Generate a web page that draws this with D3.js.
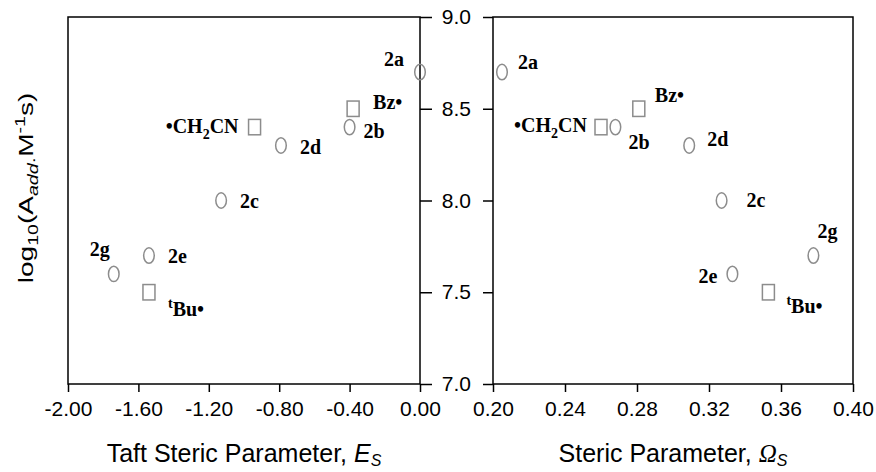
<!DOCTYPE html>
<html lang="en">
<head>
<meta charset="utf-8">
<title>log10 A_add against steric parameters</title>
<script src="https://cdn.jsdelivr.net/npm/d3@7"></script>
<style>
  body { margin: 0; background: #fff; }
  svg text { fill: #000; }
  .tick text { font-family: "Liberation Sans", Arial, sans-serif; font-size: 21px; }
  .tick line { stroke: #000; stroke-width: 1.5; }
  .lbl { font-family: "Liberation Serif", "Times New Roman", serif; font-weight: bold; font-size: 20px; }
  .title { font-family: "Liberation Sans", Arial, sans-serif; font-size: 25px; }
</style>
</head>
<body>
<div id="chart"></div>
<script>
// substrates 2a..2g (circles)
var subNames = ["2a", "2b", "2c", "2d", "2e", "2g"];
var subEs = [0.00, -0.40, -1.13, -0.79, -1.54, -1.74];
var subLogA_Es = [8.7, 8.4, 8.0, 8.3, 7.7, 7.6];
var subOmega = [0.205, 0.268, 0.327, 0.309, 0.333, 0.378];
var subLogA_Om = [8.7, 8.4, 8.0, 8.3, 7.6, 7.7];

// radicals (squares)
var radNames = ["Bz•", "•CH_{2}CN", "^{t}Bu•"];
var radEs = [-0.38, -0.94, -1.54];
var radOmega = [0.281, 0.260, 0.353];
var radLogA = [8.5, 8.4, 7.5];

var esTicks = [-2.0, -1.6, -1.2, -0.8, -0.4, 0.0];
var omegaTicks = [0.20, 0.24, 0.28, 0.32, 0.36, 0.40];
var logTicks = [7.0, 7.5, 8.0, 8.5, 9.0];

// where each label sits relative to its marker: [dx, dy, anchor]
var subLblEs = [[-16, -6, "end"], [14, 11, "start"], [19, 7, "start"], [19, 9, "start"], [19, 7, "start"], [-4, -18, "end"]];
var radLblEs = [[20, 0, "start"], [-16, 6, "end"], [19, 24, "start"]];
var subLblOm = [[16, -3, "start"], [13, 22, "start"], [25, 6, "start"], [18, 1, "start"], [-15, 9, "end"], [4, -18, "start"]];
var radLblOm = [[16, -7, "start"], [-14, 5, "end"], [18, 21, "start"]];

var W = 876, H = 472;
var markColor = "#8c8c8c";
var lblSize = 20;

var svg = d3.select("#chart").append("svg")
  .attr("width", W)
  .attr("height", H);

svg.append("rect").attr("width", W).attr("height", H).attr("fill", "#fff");

var y = d3.scaleLinear().domain([7, 9]).range([384, 17]);
var xEs = d3.scaleLinear().domain([-2, 0]).range([68, 420]);
var xOm = d3.scaleLinear().domain([0.2, 0.4]).range([493, 853]);

// text with _{sub} and ^{sup} markup
function richText(sel, str, size) {
  var re = /([_^])\{([^}]*)\}|([^_^]+)/g, m, shift = 0;
  while ((m = re.exec(str))) {
    if (m[3]) {
      sel.append("tspan").attr("dy", -shift).text(m[3]);
      shift = 0;
    } else {
      var d = m[1] == "_" ? size * 0.3 : -size * 0.4;
      sel.append("tspan").attr("dy", d - shift).attr("font-size", size * 0.7).text(m[2]);
      shift = d;
    }
  }
}

function drawPanel(x, ticks, fmt, sx, sy, sLbl, rx, ry, rLbl) {
  var r = x.range();
  svg.append("rect")
    .attr("x", r[0]).attr("y", y(9))
    .attr("width", r[1] - r[0]).attr("height", y(7) - y(9))
    .attr("fill", "none").attr("stroke", "#000").attr("stroke-width", 1.5);

  svg.append("g")
    .attr("transform", "translate(0," + y(7) + ")")
    .call(d3.axisBottom(x).tickValues(ticks).tickSize(8).tickPadding(9).tickFormat(fmt))
    .call(g => g.select(".domain").remove());

  var pts = svg.append("g");
  sx.forEach(function(v, i) {
    pts.append("ellipse")
      .attr("cx", x(v)).attr("cy", y(sy[i]))
      .attr("rx", 5.3).attr("ry", 7.7)
      .attr("fill", "none").attr("stroke", markColor).attr("stroke-width", 1.5);
    var t = pts.append("text").attr("class", "lbl")
      .attr("x", x(v) + sLbl[i][0]).attr("y", y(sy[i]) + sLbl[i][1])
      .attr("text-anchor", sLbl[i][2]);
    richText(t, subNames[i], lblSize);
  });
  rx.forEach(function(v, i) {
    pts.append("rect")
      .attr("x", x(v) - 6).attr("y", y(ry[i]) - 7.7)
      .attr("width", 12).attr("height", 15.4)
      .attr("fill", "none").attr("stroke", markColor).attr("stroke-width", 1.5);
    var t = pts.append("text").attr("class", "lbl")
      .attr("x", x(v) + rLbl[i][0]).attr("y", y(ry[i]) + rLbl[i][1])
      .attr("text-anchor", rLbl[i][2]);
    richText(t, radNames[i], lblSize);
  });
}

drawPanel(xEs, esTicks, d => d.toFixed(2), subEs, subLogA_Es, subLblEs, radEs, radLogA, radLblEs);
drawPanel(xOm, omegaTicks, d => d.toFixed(2), subOmega, subLogA_Om, subLblOm, radOmega, radLogA, radLblOm);

// shared y axis between the panels
svg.append("g")
  .attr("transform", "translate(" + xEs(0) + ",0)")
  .call(d3.axisRight(y).tickValues(logTicks).tickSize(12).tickFormat(""))
  .call(g => g.select(".domain").remove());

svg.append("g")
  .attr("transform", "translate(" + xOm(0.2) + ",0)")
  .call(d3.axisLeft(y).tickValues(logTicks).tickSize(10).tickPadding(12).tickFormat(d => d.toFixed(1)))
  .call(g => g.select(".domain").remove());

// axis titles
var t1 = svg.append("text").attr("class", "title")
  .attr("x", (xEs.range()[0] + xEs.range()[1]) / 2).attr("y", 462)
  .attr("text-anchor", "middle");
t1.append("tspan").text("Taft Steric Parameter, ");
t1.append("tspan").attr("font-style", "italic").text("E");
t1.append("tspan").attr("font-style", "italic").attr("font-size", 16).attr("dy", 4).text("S");

var t2 = svg.append("text").attr("class", "title")
  .attr("x", (xOm.range()[0] + xOm.range()[1]) / 2).attr("y", 462)
  .attr("text-anchor", "middle");
t2.append("tspan").text("Steric Parameter, ");
t2.append("tspan").attr("font-style", "italic").attr("font-family", "'Liberation Serif', serif").text("Ω");
t2.append("tspan").attr("font-style", "italic").attr("font-size", 16).attr("dy", 4).text("S");

var yt = svg.append("text").attr("class", "title")
  .attr("font-size", 20).style("font-size", "20px")
  .attr("text-anchor", "middle")
  .attr("transform", "translate(33,188) rotate(-90) scale(1.4,1)");
yt.append("tspan").text("log");
yt.append("tspan").attr("font-size", 14).attr("dy", 5).text("10");
yt.append("tspan").attr("dy", -5).text("(A");
yt.append("tspan").attr("font-size", 14).attr("font-style", "italic").attr("dy", 5).text("add");
yt.append("tspan").attr("font-size", 14).text("·");
yt.append("tspan").attr("dy", -5).text("M");
yt.append("tspan").attr("font-size", 14).attr("dy", -8).text("-1");
yt.append("tspan").attr("dy", 8).text("s)");
</script>
</body>
</html>
